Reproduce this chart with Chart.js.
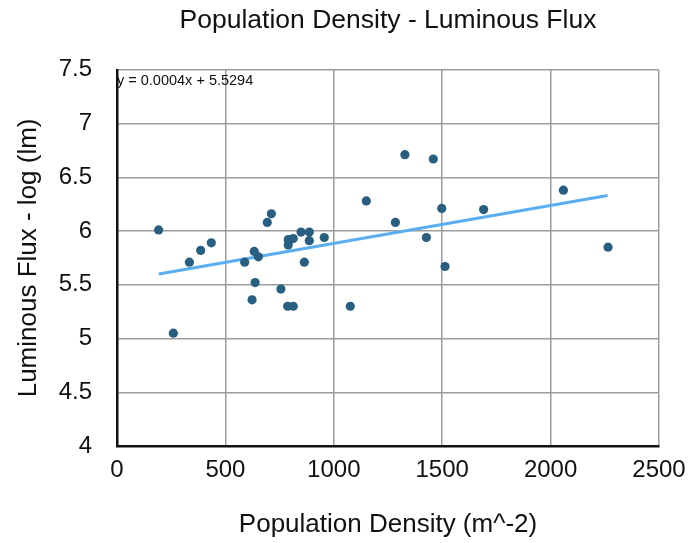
<!DOCTYPE html>
<html>
<head>
<meta charset="utf-8">
<script src="https://cdn.jsdelivr.net/npm/chart.js@4/dist/chart.umd.min.js"></script>
<style>
  html, body { margin: 0; padding: 0; background: #fff; }
  #wrap { width: 691px; height: 543px; position: relative; }
</style>
</head>
<body>
<div id="wrap"><canvas id="c" width="691" height="543"></canvas></div>
<script>
// Population density (m^-2)
const densityValues = [192, 334, 386, 435, 260, 712, 693, 849, 887, 790, 813, 790, 887, 956, 633, 652, 589, 864, 637, 756, 623, 787, 813, 1328, 1459, 1150, 1498, 1691, 1284, 1427, 1513, 1076, 2059, 2265];
// Luminous flux - log (lm)
const fluxValues = [6.01, 5.71, 5.82, 5.89, 5.05, 6.16, 6.08, 5.99, 5.99, 5.92, 5.93, 5.87, 5.91, 5.94, 5.81, 5.76, 5.71, 5.71, 5.52, 5.46, 5.36, 5.30, 5.30, 6.71, 6.67, 6.28, 6.21, 6.20, 6.08, 5.94, 5.67, 5.30, 6.38, 5.85];
// Linear trendline end points
const trendX = [193, 2263];
const trendY = [5.60, 6.33];
const xTicks = [0, 500, 1000, 1500, 2000, 2500];
const yTicks = [4, 4.5, 5, 5.5, 6, 6.5, 7, 7.5];
const equationText = 'y = 0.0004x + 5.5294';

const FONT = "'Liberation Sans', Arial, Helvetica, sans-serif";

const points = densityValues.map((x, i) => ({ x: x, y: fluxValues[i] }));
const trend = trendX.map((x, i) => ({ x: x, y: trendY[i] }));

const equationPlugin = {
  id: 'equation',
  afterDatasetsDraw(chart) {
    const ctx = chart.ctx;
    const a = chart.chartArea;
    ctx.save();
    ctx.font = '14.5px ' + FONT;
    ctx.fillStyle = '#111';
    ctx.textBaseline = 'middle';
    ctx.textAlign = 'left';
    ctx.fillText(equationText, a.left, a.top + 11);
    ctx.restore();
  }
};

new Chart(document.getElementById('c'), {
  type: 'scatter',
  data: {
    datasets: [
      {
        type: 'line',
        data: trend,
        borderColor: '#5aaef0',
        borderWidth: 3,
        pointRadius: 0,
        fill: false,
        order: 2
      },
      {
        data: points,
        backgroundColor: '#285f80',
        borderColor: '#285f80',
        pointRadius: 4.6,
        pointBorderWidth: 0,
        order: 1
      }
    ]
  },
  options: {
    responsive: false,
    animation: false,
    devicePixelRatio: 1,
    layout: { padding: { left: 0, right: 32, top: 0, bottom: 0 } },
    plugins: {
      legend: { display: false },
      tooltip: { enabled: false },
      title: {
        display: true,
        text: 'Population Density - Luminous Flux',
        fullSize: false,
        color: '#111',
        font: { family: FONT, size: 26.5, weight: 'normal' },
        padding: { top: 5, bottom: 33 }
      }
    },
    scales: {
      x: {
        type: 'linear',
        min: 0,
        max: 2500,
        afterBuildTicks(scale) { scale.ticks = xTicks.map(v => ({ value: v })); },
        afterFit(scale) { scale.height = 97; scale.paddingRight = 0; scale.paddingLeft = 0; },
        ticks: {
          color: '#111',
          font: { family: FONT, size: 24 },
          padding: 10,
          maxRotation: 0,
          callback: v => String(v)
        },
        grid: { color: '#9c9c9c', lineWidth: 1.5, drawTicks: false },
        border: { display: true, color: '#111', width: 2.5 },
        title: {
          display: true,
          text: 'Population Density (m^-2)',
          color: '#111',
          font: { family: FONT, size: 26 },
          padding: { top: 0, bottom: 3 }
        }
      },
      y: {
        type: 'linear',
        min: 4,
        max: 7.5,
        afterBuildTicks(scale) { scale.ticks = yTicks.map(v => ({ value: v })); },
        afterFit(scale) { scale.width = 117; scale.paddingTop = 0; scale.paddingBottom = 0; },
        ticks: {
          color: '#111',
          font: { family: FONT, size: 24 },
          padding: 25,
          callback: v => String(v)
        },
        grid: { color: '#9c9c9c', lineWidth: 1.5, drawTicks: false },
        border: { display: true, color: '#111', width: 2.5 },
        title: {
          display: true,
          text: 'Luminous Flux - log (lm)',
          color: '#111',
          font: { family: FONT, size: 26 },
          padding: { top: 13, bottom: 0 }
        }
      }
    }
  },
  plugins: [equationPlugin]
});
</script>
</body>
</html>
